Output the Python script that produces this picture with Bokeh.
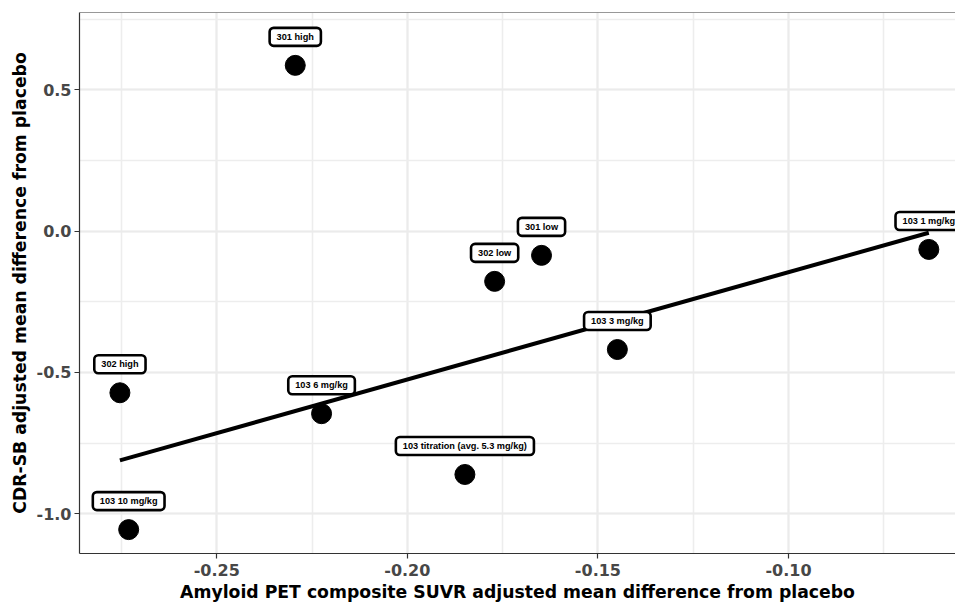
from bokeh.plotting import figure
from bokeh.models import (ColumnDataSource, Range1d, SingleIntervalTicker,
                          PrintfTickFormatter, Span, Title)
from bokeh.core.properties import value
from bokeh.embed import file_html
from bokeh.resources import INLINE

# ---- data ----
labels = ["301 high", "302 high", "103 10 mg/kg", "103 6 mg/kg", "302 low",
          "301 low", "103 3 mg/kg", "103 titration (avg. 5.3 mg/kg)", "103 1 mg/kg"]
suvr_diff = [-0.2294, -0.2754, -0.2731, -0.2225, -0.1771, -0.1648, -0.1449, -0.1849, -0.0632]
cdrsb_diff = [0.586, -0.572, -1.056, -0.646, -0.178, -0.086, -0.419, -0.861, -0.065]
fit_x = [-0.2754, -0.0632]
fit_y = [-0.811, -0.006]

x_title = "Amyloid PET composite SUVR adjusted mean difference from placebo"
y_title = "CDR-SB adjusted mean difference from placebo"

FONT = "DejaVu Sans"
LABEL_FONT = "Liberation Sans"

p = figure(width=955, height=604, output_backend="svg", toolbar_location=None,
           x_range=Range1d(-0.286, -0.0562), y_range=Range1d(-1.1405, 0.773),
           min_border_left=79, min_border_right=0, min_border_top=12, min_border_bottom=51)
p.outline_line_color = None
p.background_fill_color = "white"
p.border_fill_color = "white"

p.xaxis.ticker = SingleIntervalTicker(interval=0.05, num_minor_ticks=2)
p.yaxis.ticker = SingleIntervalTicker(interval=0.5, num_minor_ticks=2)
p.xaxis.formatter = PrintfTickFormatter(format="%.2f")
p.yaxis.formatter = PrintfTickFormatter(format="%.1f")

for ax in (p.xaxis[0], p.yaxis[0]):
    ax.major_label_text_font = FONT
    ax.major_label_text_font_style = "bold"
    ax.major_label_text_font_size = "16px"
    ax.major_label_text_color = "#474747"
    ax.major_tick_in = 0
    ax.major_tick_out = 5
    ax.minor_tick_line_color = None
    ax.axis_line_color = "#333333"
    ax.axis_line_width = 1.2
    ax.major_tick_line_color = "#333333"
    ax.major_tick_line_width = 1.2
    ax.major_label_standoff = 3
p.xaxis.major_label_standoff = 5

p.yaxis.axis_label = y_title
p.yaxis.axis_label_text_font = FONT
p.yaxis.axis_label_text_font_style = "bold"
p.yaxis.axis_label_text_font_size = "17.25px"
p.yaxis.axis_label_text_color = "black"
p.yaxis.axis_label_standoff = 4

for g in (p.xgrid[0], p.ygrid[0]):
    g.grid_line_color = "#EBEBEB"
    g.grid_line_width = 2
    g.minor_grid_line_color = "#EDEDED"
    g.minor_grid_line_width = 1.6

p.add_layout(Span(location=p.y_range.end, dimension="width",
                  line_color="#333333", line_width=1.2))

xt = Title(text=x_title, align="center", offset=7, text_font=FONT,
           text_font_size="17.25px", text_font_style="bold", text_color="black",
           standoff=3)
p.add_layout(xt, "below")

src = ColumnDataSource(dict(x=suvr_diff, y=cdrsb_diff, label=labels))

p.line(fit_x, fit_y, line_color="black", line_width=4)
p.scatter("x", "y", source=src, size=20, fill_color="black", line_color="black")

p.text(x="x", y="y", text="label", source=src, text_align="center",
       text_baseline="middle", y_offset=-28.5, text_font=value(LABEL_FONT),
       text_font_size="9.2px", text_font_style="bold", text_color="black",
       background_fill_color="white", border_line_color="black",
       border_line_width=2.6, border_radius=4,
       padding=dict(left=7, right=7, top=4, bottom=4))

open("out.html", "w").write(file_html(p, INLINE))
